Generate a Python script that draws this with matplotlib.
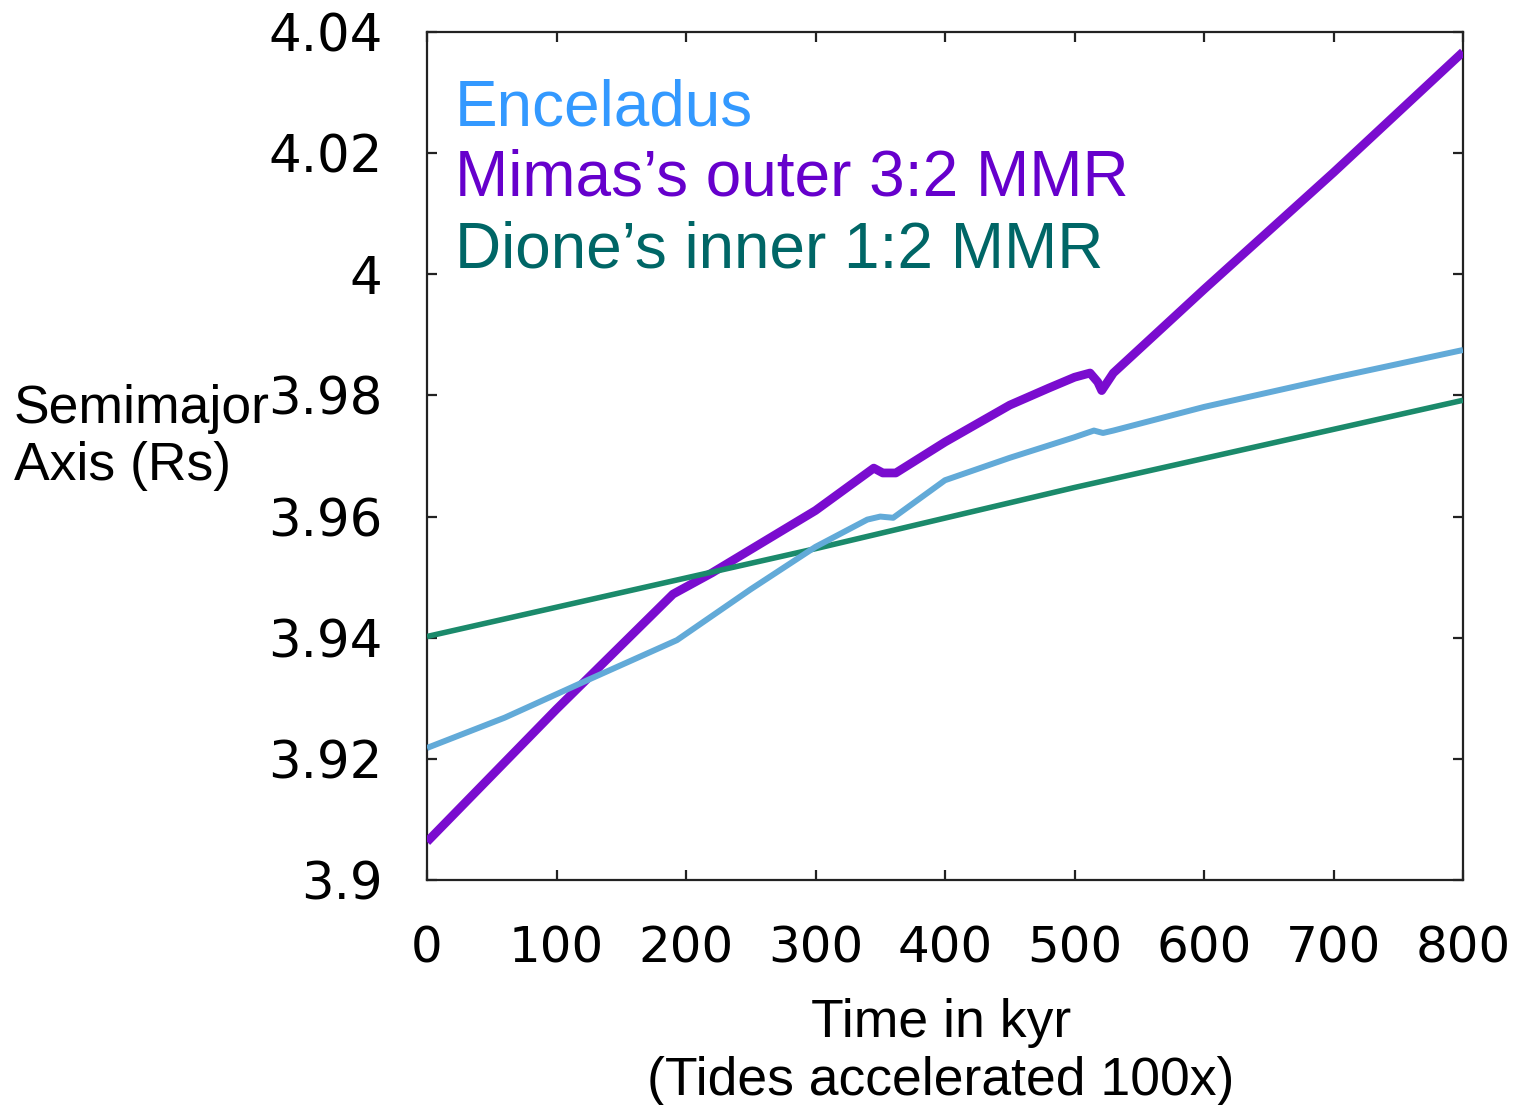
import numpy as np
import matplotlib
matplotlib.use("Agg")
import matplotlib.pyplot as plt
from matplotlib.ticker import FuncFormatter

# values (time in kyr, semimajor axis in Rs)
t_enc = [0, 60, 124, 193, 250, 300, 340, 350, 360, 400, 450, 500, 515, 522, 530, 600, 700, 800]
a_enc = [3.9218, 3.9268, 3.9330, 3.9396, 3.9480, 3.9550, 3.9595, 3.9600, 3.9598, 3.9660,
         3.9697, 3.9731, 3.9742, 3.9738, 3.9742, 3.9781, 3.9829, 3.9875]

t_mim = [0, 100, 190, 220, 300, 345, 352, 362, 400, 450, 480, 500, 512, 518, 521, 530, 600, 700, 800]
a_mim = [3.9063, 3.9282, 3.9472, 3.9507, 3.9610, 3.9680, 3.9672, 3.9672, 3.9723, 3.9784,
         3.9812, 3.9830, 3.9837, 3.9822, 3.9808, 3.9837, 3.9975, 4.0168, 4.0367]

t_dio = [0, 300, 500, 800]
a_dio = [3.9402, 3.9547, 3.9648, 3.9792]

xticks = [0, 100, 200, 300, 400, 500, 600, 700, 800]
yticks = [3.90, 3.92, 3.94, 3.96, 3.98, 4.00, 4.02, 4.04]

fig = plt.figure(figsize=(15.17, 11.05), dpi=100)
ax = fig.add_axes([427 / 1517, 1 - 880 / 1105, 1036 / 1517, 848 / 1105])

ax.plot(t_mim, a_mim, color="#7a0ccf", lw=6.3, solid_capstyle="butt", zorder=3)
ax.plot(t_dio, a_dio, color="#1b8a6b", lw=4.0, solid_capstyle="butt", zorder=4)
ax.plot(t_enc, a_enc, color="#62aad8", lw=4.3, solid_capstyle="butt", zorder=5)

ax.set_xlim(0, 800)
ax.set_ylim(3.9, 4.04)
ax.set_xticks(xticks)
ax.set_yticks(yticks)
ax.yaxis.set_major_formatter(FuncFormatter(lambda v, p: "%g" % round(v, 2)))

for s in ax.spines.values():
    s.set_linewidth(1.6)
    s.set_color("#222222")

ax.tick_params(direction="in", length=7, width=1.6, top=True, right=True,
               color="#222222")
ax.tick_params(axis="x", pad=32, labelsize=36)
ax.tick_params(axis="y", pad=32, labelsize=37)
for lab in ax.get_xticklabels() + ax.get_yticklabels():
    lab.set_family("DejaVu Sans")

lf = "Liberation Sans"
fig.text(455 / 1517, 1 - 125 / 1105, "Enceladus", color="#3399ff", fontsize=46, family=lf, va="baseline")
fig.text(455 / 1517, 1 - 196 / 1105, "Mimas\u2019s outer 3:2 MMR", color="#6600cc", fontsize=46, family=lf, va="baseline")
fig.text(455 / 1517, 1 - 267 / 1105, "Dione\u2019s inner 1:2 MMR", color="#006666", fontsize=46, family=lf, va="baseline")

fig.text(14 / 1517, 1 - 423 / 1105, "Semimajor", fontsize=38.5, family=lf, va="baseline")
fig.text(14 / 1517, 1 - 480 / 1105, "Axis (Rs)", fontsize=38.5, family=lf, va="baseline")

fig.text(941 / 1517, 1 - 1037 / 1105, "Time in kyr", fontsize=38.5, family=lf, va="baseline", ha="center")
fig.text(941 / 1517, 1 - 1095 / 1105, "(Tides accelerated 100x)", fontsize=38.5, family=lf, va="baseline", ha="center")

fig.savefig("out.png", dpi=100, facecolor="white")
